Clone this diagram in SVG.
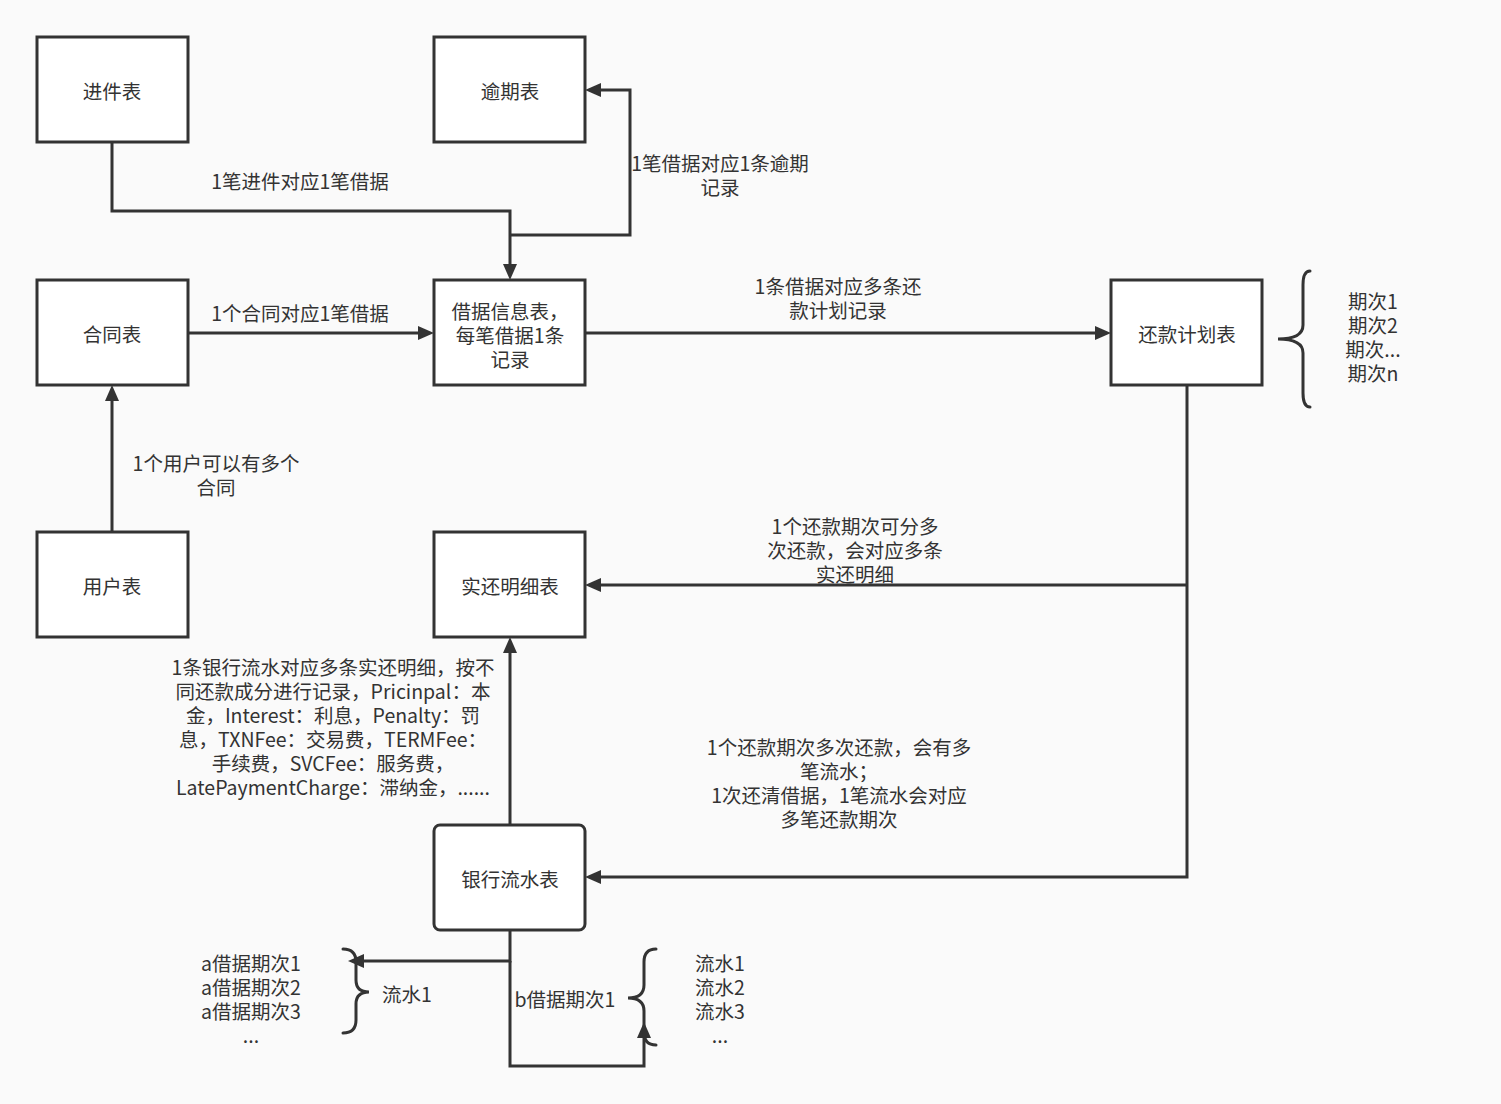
<svg xmlns="http://www.w3.org/2000/svg" width="1501" height="1104" viewBox="0 0 1501 1104">
<style>
.bg{fill:#fafafa}
.box{fill:#ffffff;stroke:#333333;stroke-width:3}
.ln{fill:none;stroke:#333333;stroke-width:3}
.br{fill:none;stroke:#333333;stroke-width:3;stroke-linecap:round}
text{font-family:"Noto Sans CJK SC","Noto Sans",sans-serif;font-size:19.5px;fill:#333333;text-anchor:middle;dominant-baseline:central}
</style>
<defs>
<marker id="ah" markerUnits="userSpaceOnUse" markerWidth="18" markerHeight="16" refX="8" refY="7" orient="auto">
<path d="M0,0 L16,7 L0,14 Z" fill="#333333"/>
</marker>
</defs>
<rect class="bg" x="0" y="0" width="1501" height="1104"/>
<g id="connectors">
<path class="ln" d="M112 142 V211 H510 V272" marker-end="url(#ah)"/>
<path class="ln" d="M510 235 H630 V90 H593" marker-end="url(#ah)"/>
<path class="ln" d="M188 333 H426" marker-end="url(#ah)"/>
<path class="ln" d="M112 532 V393" marker-end="url(#ah)"/>
<path class="ln" d="M585 333 H1103" marker-end="url(#ah)"/>
<path class="ln" d="M1187 385 V877 H593" marker-end="url(#ah)"/>
<path class="ln" d="M1187 585 H593" marker-end="url(#ah)"/>
<path class="ln" d="M510 825 V645" marker-end="url(#ah)"/>
<path class="ln" d="M510 930 V961 H356" marker-end="url(#ah)"/>
<path class="ln" d="M510 961 V1066 H644 V1030" marker-end="url(#ah)"/>
</g>
<g id="labels">
<text x="300" y="180">1笔进件对应1笔借据</text>
<text x="720" y="162">1笔借据对应1条逾期</text>
<text x="720" y="186">记录</text>
<text x="300" y="312">1个合同对应1笔借据</text>
<text x="838" y="285">1条借据对应多条还</text>
<text x="838" y="309">款计划记录</text>
<text x="216" y="462">1个用户可以有多个</text>
<text x="216" y="486">合同</text>
<text x="855" y="525">1个还款期次可分多</text>
<text x="855" y="549">次还款，会对应多条</text>
<text x="855" y="573">实还明细</text>
<text x="333" y="666">1条银行流水对应多条实还明细，按不</text>
<text x="333" y="690">同还款成分进行记录，Pricinpal：本</text>
<text x="333" y="714">金，Interest：利息，Penalty：罚</text>
<text x="333" y="738">息，TXNFee：交易费，TERMFee：</text>
<text x="333" y="762">手续费，SVCFee：服务费，</text>
<text x="333" y="786">LatePaymentCharge：滞纳金，......</text>
<text x="839" y="746">1个还款期次多次还款，会有多</text>
<text x="839" y="770">笔流水；</text>
<text x="839" y="794">1次还清借据，1笔流水会对应</text>
<text x="839" y="818">多笔还款期次</text>
</g>
<g id="brace-plan">
<path class="br" d="M1310 271 Q1303 271 1303 285 L1303 325 Q1303 339 1278 339 Q1303 339 1303 353 L1303 393 Q1303 407 1310 407"/>
<text x="1373" y="300">期次1</text>
<text x="1373" y="324">期次2</text>
<text x="1373" y="348">期次...</text>
<text x="1373" y="372">期次n</text>
</g>
<g id="brace-a">
<path class="br" d="M343 949 Q356 949 356 962 L356 980 Q356 992 369 992 Q356 992 356 1004 L356 1020 Q356 1033 343 1033"/>
<text x="251" y="962">a借据期次1</text>
<text x="251" y="986">a借据期次2</text>
<text x="251" y="1010">a借据期次3</text>
<text x="251" y="1034">...</text>
<text x="407" y="993">流水1</text>
</g>
<g id="brace-b">
<path class="br" d="M656 949 Q644 949 644 962 L644 985 Q644 998 628 998 Q644 998 644 1011 L644 1032 Q644 1045 656 1045"/>
<text x="565" y="998">b借据期次1</text>
<text x="720" y="962">流水1</text>
<text x="720" y="986">流水2</text>
<text x="720" y="1010">流水3</text>
<text x="720" y="1034">...</text>
</g>
<g id="node-jinjian"><rect class="box" x="37" y="37" width="151" height="105"/><text x="112" y="90">进件表</text></g>
<g id="node-yuqi"><rect class="box" x="434" y="37" width="151" height="105"/><text x="510" y="90">逾期表</text></g>
<g id="node-hetong"><rect class="box" x="37" y="280" width="151" height="105"/><text x="112" y="333">合同表</text></g>
<g id="node-jieju"><rect class="box" x="434" y="280" width="151" height="105"/><text x="510" y="310">借据信息表，</text><text x="510" y="334">每笔借据1条</text><text x="510" y="358">记录</text></g>
<g id="node-huankuan"><rect class="box" x="1111" y="280" width="151" height="105"/><text x="1187" y="333">还款计划表</text></g>
<g id="node-yonghu"><rect class="box" x="37" y="532" width="151" height="105"/><text x="112" y="585">用户表</text></g>
<g id="node-shihuan"><rect class="box" x="434" y="532" width="151" height="105"/><text x="510" y="585">实还明细表</text></g>
<g id="node-yinhang"><rect class="box" x="434" y="825" width="151" height="105" rx="6" ry="6"/><text x="510" y="878">银行流水表</text></g>
</svg>
